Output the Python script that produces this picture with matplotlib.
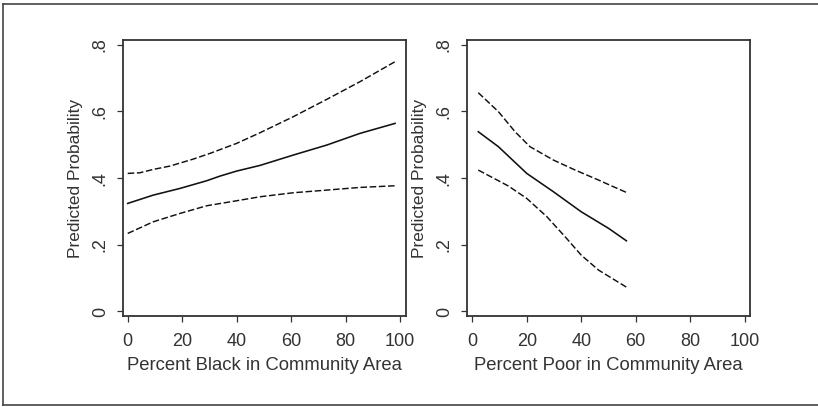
import matplotlib
matplotlib.use("Agg")
import matplotlib.pyplot as plt
from matplotlib.lines import Line2D

plt.rcParams['font.family'] = ['Liberation Sans', 'DejaVu Sans']

# Left panel: Percent Black
black_x_fit = [0, 9.4, 19.2, 29, 33.9, 40, 48.6, 60.8, 73.1, 85.3, 98.2]
black_fit = [0.324, 0.349, 0.369, 0.392, 0.406, 0.421, 0.438, 0.469, 0.499, 0.534, 0.564]
black_x_up = [0, 4.5, 9.4, 15.5, 24.1, 30.2, 40, 48.6, 60.8, 73.1, 85.3, 98.2]
black_up = [0.414, 0.416, 0.426, 0.436, 0.457, 0.474, 0.504, 0.536, 0.584, 0.636, 0.689, 0.749]
black_x_lo = [0, 9.4, 19.2, 29, 40, 48.6, 60.8, 73.1, 85.3, 98.2]
black_lo = [0.234, 0.269, 0.294, 0.317, 0.332, 0.344, 0.356, 0.364, 0.372, 0.377]

# Right panel: Percent Poor
poor_x_fit = [2.2, 9.6, 20, 29.8, 40, 50.1, 56.6]
poor_fit = [0.539, 0.494, 0.414, 0.359, 0.299, 0.249, 0.212]
poor_x_up = [2.2, 9.6, 15.7, 21.2, 29.8, 37.8, 46.4, 51.3, 56.6]
poor_up = [0.656, 0.599, 0.539, 0.494, 0.454, 0.424, 0.394, 0.376, 0.357]
poor_x_lo = [2.2, 13.3, 20, 27.4, 34.1, 40, 46.4, 56.6]
poor_lo = [0.424, 0.376, 0.339, 0.284, 0.224, 0.169, 0.124, 0.073]

xticks = [0, 20, 40, 60, 80, 100]
yticks = [0, 0.2, 0.4, 0.6, 0.8]
ytick_labels = ["0", ".2", ".4", ".6", ".8"]
xlabels = ["Percent Black in Community Area", "Percent Poor in Community Area"]
ylabel = "Predicted Probability"

W, H = 818, 407
fig = plt.figure(figsize=(W / 100, H / 100), dpi=100)

spine_col = "#333333"
text_col = "#333333"
dash = (0, (4.5, 1.8))

panels = [
    (122.7, 405.7, -1.84, 102.1, black_x_fit, black_fit, black_x_up, black_up, black_x_lo, black_lo, xlabels[0]),
    (466.7, 750.0, -2.06, 102.0, poor_x_fit, poor_fit, poor_x_up, poor_up, poor_x_lo, poor_lo, xlabels[1]),
]

top_px, bot_px = 40, 316
for (l, r, x0, x1, xf, yf, xu, yu, xl, yl, xlab) in panels:
    ax = fig.add_axes([l / W, 1 - bot_px / H, (r - l) / W, (bot_px - top_px) / H])
    ax.plot(xf, yf, color="#111111", lw=1.15, solid_joinstyle="round")
    ax.plot(xu, yu, color="#111111", lw=1.05, linestyle=dash)
    ax.plot(xl, yl, color="#111111", lw=1.05, linestyle=dash)
    ax.set_xlim(x0, x1)
    ax.set_ylim(-0.0135, 0.814)
    ax.set_xticks(xticks)
    ax.set_xticklabels([str(t) for t in xticks])
    ax.set_yticks(yticks)
    ax.set_yticklabels(ytick_labels, rotation=90, va="center")
    ax.tick_params(axis="x", pad=8)
    ax.tick_params(axis="y", pad=6)
    ax.tick_params(axis="both", direction="out", length=4, width=0.9,
                   color=spine_col, labelcolor=text_col, labelsize=13)
    for s in ax.spines.values():
        s.set_color(spine_col)
        s.set_linewidth(1.3)
    ax.set_xlabel(xlab, fontsize=13.3, color=text_col, labelpad=5)
    ax.set_ylabel(ylabel, fontsize=12.5, color=text_col, labelpad=6)

# outer frame
fc = "#444444"
fig.add_artist(Line2D([3 / W, 3 / W], [1 - 4 / H, 1 - 405 / H], color=fc, lw=1.2))
fig.add_artist(Line2D([3 / W, 1.01], [1 - 4 / H, 1 - 4 / H], color=fc, lw=1.2))
fig.add_artist(Line2D([3 / W, 1.01], [1 - 405 / H, 1 - 405 / H], color=fc, lw=1.2))

fig.savefig("out.png", dpi=100)
